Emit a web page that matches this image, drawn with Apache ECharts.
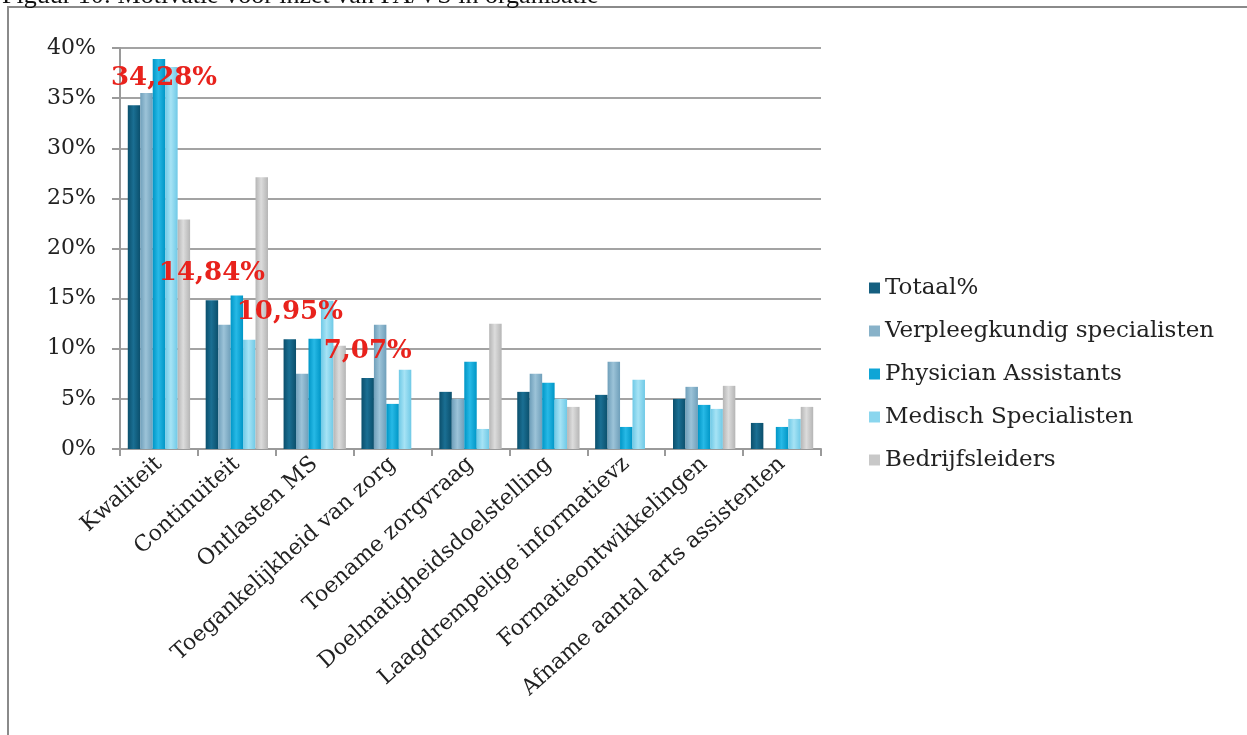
<!DOCTYPE html>
<html><head><meta charset="utf-8">
<script src="https://cdn.jsdelivr.net/npm/echarts@6/dist/echarts.min.js"></script>
<style>html,body{margin:0;padding:0;background:#fff}#c{width:1247px;height:735px}</style>
</head><body><div id="c"></div>
<script>
const categories = ['Kwaliteit','Continuiteit','Ontlasten MS','Toegankelijkheid van zorg','Toename zorgvraag','Doelmatigheidsdoelstelling','Laagdrempelige informatievz','Formatieontwikkelingen','Afname aantal arts assistenten'];
const seriesNames = ['Totaal%','Verpleegkundig specialisten','Physician Assistants','Medisch Specialisten','Bedrijfsleiders'];
const totaal = [34.28, 14.84, 10.95, 7.07, 5.7, 5.7, 5.4, 5.0, 2.6];
const verpleegkundig = [35.5, 12.4, 7.5, 12.4, 5.0, 7.5, 8.7, 6.2, 0];
const physician = [38.9, 15.3, 11.0, 4.5, 8.7, 6.6, 2.2, 4.4, 2.2];
const medisch = [38.1, 10.9, 14.8, 7.9, 2.0, 5.0, 6.9, 4.0, 3.0];
const bedrijfsleiders = [22.9, 27.1, 10.3, 0, 12.5, 4.2, 0, 6.3, 4.2];
const labelledCount = 4;

const colors = [['#0b4f6c','#1a6f93','#0b4f6c'],['#6f9fba','#9cc3d8','#6f9fba'],['#0096c6','#27b9e6','#0096c6'],['#6fc9e6','#a6e3f5','#6fc9e6'],['#b5b5b5','#dcdcdc','#b5b5b5']];
const legendColors = ['#155f80','#88b2c9','#0ea5d6','#8ad6ee','#c8c8c8'];
function grad(c){return {type:'linear',x:0,y:0,x2:1,y2:0,colorStops:[{offset:0,color:c[0]},{offset:0.45,color:c[1]},{offset:1,color:c[2]}]};}
const allData = [totaal, verpleegkundig, physician, medisch, bedrijfsleiders];
const font = 'DejaVu Serif';

const series = allData.map((arr, si) => ({
  name: seriesNames[si],
  type: 'bar',
  barGap: '0%',
  barCategoryGap: '20%',
  itemStyle: {color: grad(colors[si])},
  data: arr.map((v, i) => {
    const d = {value: v};
    if (si === 0 && i < labelledCount) {
      d.label = {show: true, position: 'top', distance: 14,
        offset: i === 0 ? [30, 0] : [0, 0],
        formatter: p => p.value.toFixed(2).replace('.', ',') + '%',
        color: '#e8221c', fontFamily: font, fontWeight: 'bold', fontSize: 26};
    }
    return d;
  }),
  z: 3
}));

const chart = echarts.init(document.getElementById('c'));
chart.setOption({
  animation: false,
  color: legendColors,
  graphic: [
    {type:'rect', shape:{x:8,y:7,width:1260,height:800}, style:{fill:'none',stroke:'#8a8a8a',lineWidth:2}, z:0},
    {type:'text', left: 2, top: -17, style:{text:'Figuur 10: Motivatie voor inzet van PA/VS in organisatie', font:'26px "Liberation Serif"', fill:'#111'}}
  ],
  grid: {left: 120, right: 426, top: 48, bottom: 286},
  legend: {
    orient: 'vertical', left: 864, top: 271, itemGap: 19, itemWidth: 11, itemHeight: 11,
    icon: 'rect',
    textStyle: {fontFamily: font, fontSize: 23, lineHeight: 24, color: '#222'},
    data: seriesNames.map((n,i)=>({name:n, itemStyle:{color:legendColors[i]}}))
  },
  xAxis: {
    type: 'category', data: categories,
    axisLine: {lineStyle: {color: '#9a9a9a', width: 2}},
    axisTick: {show: true, alignWithLabel: false, length: 7, lineStyle: {color: '#9a9a9a', width: 2}},
    axisLabel: {rotate: 42, interval: 0, margin: 12, fontFamily: font, fontSize: 22, color: '#222'}
  },
  yAxis: {
    type: 'value', min: 0, max: 40, interval: 5,
    axisLine: {show: true, lineStyle: {color: '#9a9a9a', width: 2}},
    axisTick: {show: true, length: 8, lineStyle: {color: '#9a9a9a', width: 2}},
    splitLine: {lineStyle: {color: '#a3a3a3', width: 2}},
    axisLabel: {margin: 24, fontFamily: font, fontSize: 22, color: '#222', formatter: v => v + '%'}
  },
  series
});
</script></body></html>
